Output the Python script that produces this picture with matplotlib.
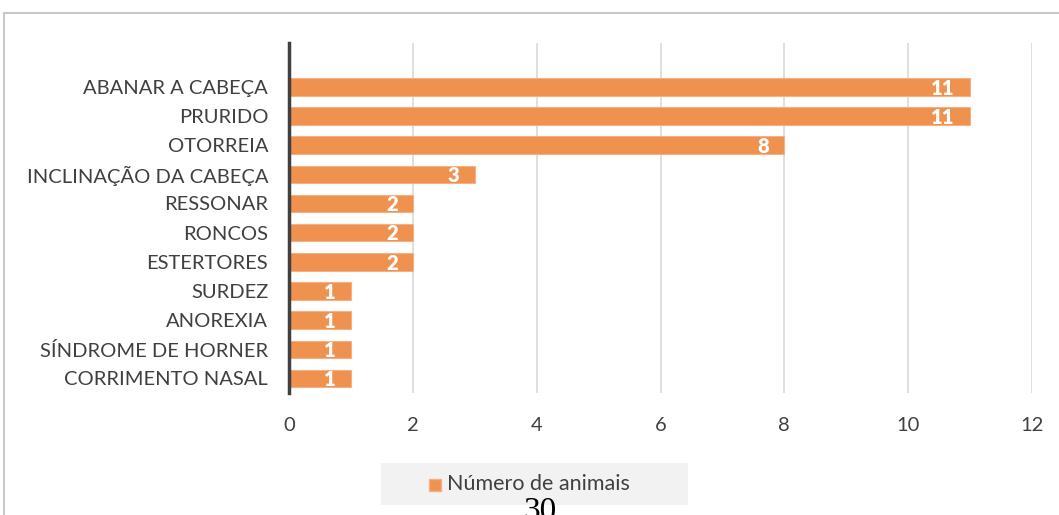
import numpy as np
import matplotlib.pyplot as plt
import matplotlib.patches as mpatch

plt.rcParams['font.family'] = ['Lato', 'DejaVu Sans']

# categories from bottom to top
sinais = ['CORRIMENTO NASAL', 'SÍNDROME DE HORNER', 'ANOREXIA', 'SURDEZ',
          'ESTERTORES', 'RONCOS', 'RESSONAR', 'INCLINAÇÃO DA CABEÇA',
          'OTORREIA', 'PRURIDO', 'ABANAR A CABEÇA']
n_animais = [1, 1, 1, 1, 2, 2, 2, 3, 8, 11, 11]
xticks = [0, 2, 4, 6, 8, 10, 12]

W, H = 1059, 515
fig = plt.figure(figsize=(W / 100, H / 100), dpi=100)
ax = fig.add_axes([289 / W, 1 - 393 / H, (1032 - 289) / W, (393 - 43) / H])

bar_color = '#EF914F'
y = np.arange(len(sinais))
bars = ax.barh(y, n_animais, height=0.6, color=bar_color,
               edgecolor='#F4B183', linewidth=0.8, zorder=3)

for yi, v in zip(y, n_animais):
    ax.annotate(str(v), xy=(v, yi), xytext=(-11, -1), textcoords='offset points',
                ha='right', va='center', color='white', fontsize=14.5,
                fontweight='heavy', zorder=4)

ax.set_xlim(0, 12)
ax.set_ylim(-0.5, 11.5)
ax.set_xticks(xticks)
ax.set_xticklabels([str(t) for t in xticks])
ax.set_yticks(y)
ax.set_yticklabels(sinais)
ax.tick_params(axis='both', length=0, labelsize=14.5, colors='#404040')
ax.tick_params(axis='x', pad=17)
ax.tick_params(axis='y', pad=15)
ax.grid(axis='x', color='#d9d9d9', linewidth=1.2, zorder=0)
ax.set_axisbelow(True)
for s in ['top', 'right', 'bottom']:
    ax.spines[s].set_visible(False)
ax.spines['left'].set_color('#404040')
ax.spines['left'].set_linewidth(2.5)
ax.spines['left'].set_zorder(5)

# legend box
leg_bg = mpatch.Rectangle((381 / W, 1 - 505 / H), 307 / W, 42 / H,
                          transform=fig.transFigure, facecolor='#f2f2f2',
                          edgecolor='none', zorder=0)
fig.patches.append(leg_bg)
fig.patches.append(mpatch.Rectangle((429 / W, 1 - 491 / H), 12 / W, 12 / H,
                                    transform=fig.transFigure,
                                    facecolor=bar_color, edgecolor='#F4B183'))
fig.text(447 / W, 1 - 484 / H, 'Número de animais', fontsize=15.5,
         color='#404040', va='center', ha='left')

# chart frame
fig.patches.append(mpatch.Rectangle((4 / W, -0.1), 1.2, 1 - 13 / H + 0.1,
                                    transform=fig.transFigure, fill=False,
                                    edgecolor='#c8c8c8', linewidth=1.5))

# page number below the chart (cut by the page edge, as in the source)
fig.text(540 / W, 1 - 497 / H, '30', family='Liberation Serif', fontsize=24,
         color='black', ha='center', va='top')

fig.savefig('out.png', dpi=100)
